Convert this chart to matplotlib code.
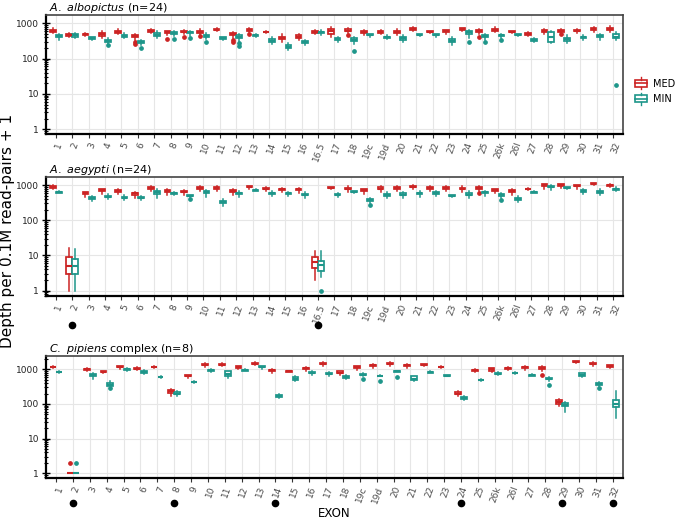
import numpy as np
import matplotlib
matplotlib.use("Agg")
import matplotlib.pyplot as plt
from matplotlib.legend_handler import HandlerBase
from matplotlib.patches import Rectangle, Patch
from matplotlib.lines import Line2D
from matplotlib.ticker import LogLocator, NullFormatter, FixedLocator

# exon categories on the x axis (C. pipiens has no 16.5)
exons = ['1', '2', '3', '4', '5', '6', '7', '8', '9', '10', '11', '12', '13', '14',
         '15', '16', '16.5', '17', '18', '19c', '19d', '20', '21', '22', '23', '24',
         '25', '26k', '26l', '27', '28', '29', '30', '31', '32']
exons_pip = ['1', '2', '3', '4', '5', '6', '7', '8', '9', '10', '11', '12', '13', '14',
             '15', '16', '17', '18', '19c', '19d', '20', '21', '22', '23', '24',
             '25', '26k', '26l', '27', '28', '29', '30', '31', '32']

# box stats per exon: (whisker low, q1, median, q3, whisker high)
albo_med = [(520, 580, 620, 660, 720), (400, 440, 470, 500, 540), (440, 470, 490, 510, 530),
            (380, 440, 500, 540, 620), (500, 540, 560, 590, 680), (340, 400, 430, 460, 480),
            (520, 570, 600, 640, 700), (460, 520, 560, 600, 620), (480, 550, 580, 610, 650),
            (460, 540, 580, 620, 680), (600, 640, 660, 690, 730), (380, 460, 500, 530, 560),
            (560, 620, 650, 680, 720), (520, 550, 560, 580, 600), (300, 350, 380, 410, 480),
            (340, 390, 420, 460, 500), (480, 530, 560, 590, 640), (420, 500, 600, 700, 760),
            (520, 590, 620, 680, 720), (460, 540, 560, 600, 660), (480, 540, 560, 600, 640),
            (450, 540, 580, 620, 700), (600, 650, 690, 720, 800), (540, 570, 580, 600, 620),
            (500, 570, 600, 630, 660), (600, 650, 690, 720, 740), (500, 580, 620, 660, 700),
            (560, 620, 660, 690, 780), (540, 570, 580, 600, 620), (440, 470, 500, 540, 560),
            (480, 560, 600, 650, 700), (520, 580, 620, 660, 700), (520, 590, 620, 660, 700),
            (560, 640, 690, 720, 800), (580, 650, 690, 730, 820)]
albo_min = [(340, 400, 430, 460, 500), (380, 420, 450, 480, 520), (340, 360, 380, 400, 420),
            (260, 290, 310, 340, 380), (380, 420, 430, 450, 520), (240, 270, 290, 310, 340),
            (380, 440, 470, 520, 600), (440, 500, 530, 560, 600), (440, 520, 550, 580, 620),
            (360, 410, 430, 460, 520), (340, 360, 380, 400, 420), (300, 380, 420, 450, 480),
            (420, 440, 450, 460, 480), (260, 300, 320, 360, 400), (170, 195, 210, 240, 270),
            (240, 270, 290, 310, 340), (460, 520, 550, 570, 650), (300, 340, 360, 380, 420),
            (260, 310, 330, 370, 420), (420, 450, 470, 490, 510), (350, 380, 400, 420, 450),
            (290, 340, 380, 420, 450), (430, 460, 470, 480, 500), (400, 450, 470, 490, 510),
            (240, 290, 320, 360, 400), (380, 500, 550, 600, 660), (340, 400, 430, 460, 500),
            (390, 430, 450, 470, 500), (430, 460, 470, 480, 500), (290, 310, 330, 360, 380),
            (280, 300, 400, 550, 620), (280, 320, 350, 390, 450), (340, 380, 400, 420, 450),
            (330, 400, 430, 460, 480), (340, 380, 420, 480, 560)]
albo_med_out = {'6': [250, 300], '8': [350], '9': [400], '10': [430], '12': [330, 290],
                '13': [480], '18': [450], '25': [420], '29': [480]}
albo_min_out = {'4': [240], '6': [200], '8': [350], '9': [380], '10': [300], '12': [270, 220],
                '18': [160], '24': [300], '25': [300], '26k': [340], '32': [18]}

aeg_med = [(800, 850, 900, 960, 1000), (1, 3, 5, 9, 16), (460, 560, 580, 620, 650),
           (560, 680, 720, 760, 800), (560, 650, 680, 730, 780), (440, 530, 580, 610, 640),
           (700, 800, 840, 880, 940), (520, 620, 680, 720, 760), (520, 620, 650, 690, 720),
           (700, 800, 840, 880, 920), (680, 800, 840, 880, 960), (520, 640, 680, 720, 760),
           (780, 860, 900, 940, 960), (660, 760, 800, 840, 880), (640, 740, 770, 800, 830),
           (600, 730, 770, 800, 830), (2, 4.5, 6.5, 9, 13), (760, 810, 840, 880, 900),
           (640, 760, 800, 850, 960), (560, 680, 720, 760, 800), (620, 760, 800, 860, 960),
           (660, 800, 840, 880, 920), (760, 860, 900, 940, 980), (700, 800, 840, 880, 920),
           (700, 800, 840, 880, 920), (640, 760, 800, 850, 960), (680, 800, 840, 880, 920),
           (600, 680, 720, 760, 800), (520, 640, 680, 720, 760), (720, 750, 770, 790, 810),
           (800, 950, 1000, 1050, 1100), (840, 950, 1000, 1050, 1080), (760, 920, 960, 1000, 1040),
           (1000, 1060, 1100, 1140, 1180), (860, 960, 1000, 1040, 1080)]
aeg_min = [(580, 600, 620, 640, 660), (1, 3, 5, 8, 15), (360, 400, 420, 450, 480),
           (400, 450, 470, 500, 560), (380, 420, 440, 470, 540), (380, 420, 440, 460, 500),
           (440, 560, 620, 660, 760), (520, 560, 580, 600, 640), (460, 490, 500, 520, 540),
           (460, 580, 620, 660, 720), (260, 310, 330, 350, 400), (460, 550, 580, 610, 660),
           (680, 700, 720, 740, 760), (500, 560, 580, 610, 680), (480, 560, 580, 600, 620),
           (440, 520, 540, 570, 640), (2.5, 3.5, 5.5, 7, 13), (460, 520, 540, 560, 600),
           (580, 630, 650, 670, 700), (300, 350, 370, 400, 440), (420, 500, 520, 550, 640),
           (440, 520, 540, 580, 640), (460, 550, 580, 610, 680), (480, 550, 580, 620, 660),
           (470, 490, 500, 510, 530), (440, 520, 540, 580, 660), (480, 590, 620, 650, 700),
           (440, 490, 520, 560, 600), (320, 380, 400, 430, 480), (580, 600, 620, 640, 660),
           (740, 870, 900, 930, 980), (800, 820, 840, 860, 880), (560, 650, 680, 720, 780),
           (540, 600, 650, 700, 760), (680, 740, 770, 800, 880)]
aeg_med_out = {'25': [600]}
aeg_min_out = {'9': [400], '16.5': [1], '19c': [270], '26k': [380]}

pip_med = [(1100, 1140, 1170, 1200, 1240), (1, 1, 1, 1, 1), (880, 960, 1000, 1050, 1100),
           (760, 820, 840, 880, 920), (1000, 1130, 1170, 1220, 1260), (950, 1000, 1050, 1100, 1150),
           (1080, 1130, 1170, 1200, 1240), (170, 210, 230, 250, 270), (560, 620, 640, 680, 700),
           (1200, 1320, 1360, 1420, 1480), (1260, 1320, 1360, 1420, 1480), (1040, 1120, 1170, 1220, 1260),
           (1300, 1400, 1460, 1520, 1580), (800, 900, 940, 980, 1020), (840, 860, 880, 900, 920),
           (900, 1040, 1090, 1120, 1150), (1250, 1400, 1460, 1520, 1580), (680, 760, 800, 880, 920),
           (980, 1120, 1170, 1220, 1260), (1100, 1260, 1300, 1360, 1400), (1250, 1400, 1460, 1520, 1600),
           (1100, 1260, 1300, 1360, 1400), (1280, 1330, 1360, 1400, 1440), (1100, 1140, 1170, 1200, 1240),
           (170, 190, 200, 215, 230), (820, 900, 940, 980, 1020), (820, 920, 1000, 1060, 1100),
           (960, 1050, 1090, 1120, 1160), (980, 1120, 1170, 1200, 1260), (900, 1040, 1090, 1130, 1250),
           (85, 100, 115, 130, 135), (1500, 1580, 1630, 1680, 1720), (1260, 1400, 1460, 1520, 1580),
           (1100, 1200, 1250, 1300, 1340)]
pip_min = [(800, 820, 840, 860, 880), (1, 1, 1, 1, 1), (540, 620, 670, 740, 780),
           (320, 340, 360, 390, 460), (900, 960, 1000, 1040, 1080), (720, 800, 840, 900, 960),
           (570, 590, 600, 610, 620), (170, 190, 200, 220, 240), (410, 420, 430, 440, 450),
           (840, 900, 940, 980, 1040), (560, 650, 750, 880, 920), (880, 920, 940, 960, 1000),
           (1050, 1130, 1170, 1210, 1240), (150, 160, 170, 180, 190), (460, 500, 540, 580, 620),
           (680, 760, 800, 840, 880), (640, 720, 750, 780, 820), (520, 560, 600, 660, 700),
           (640, 680, 700, 720, 760), (620, 640, 650, 660, 680), (840, 860, 880, 900, 920),
           (460, 500, 540, 620, 660), (780, 800, 820, 840, 900), (620, 640, 650, 680, 700),
           (130, 140, 150, 160, 170), (470, 480, 490, 500, 510), (680, 720, 740, 800, 860),
           (720, 760, 780, 800, 820), (620, 660, 680, 700, 720), (460, 520, 540, 560, 600),
           (60, 85, 95, 105, 115), (580, 650, 700, 760, 800), (330, 350, 370, 390, 420),
           (40, 80, 100, 130, 230)]
pip_med_out = {'2': [2], '28': [700]}
pip_min_out = {'2': [2], '4': [280], '19c': [540], '19d': [450], '20': [600], '28': [350], '31': [280]}

# exons marked with a black dot under the axis
aeg_dots = ['2', '16.5']
pip_dots = ['2', '8', '14', '24', '29', '32']

MED_COL = '#CC2424'
MIN_COL = '#1E968A'

plt.rcParams['font.family'] = 'DejaVu Sans'
fig = plt.figure(figsize=(6.8, 5.2), dpi=100)


def make_stats(cats, rows, outs):
    stats = []
    for ex, (lo, q1, med, q3, hi) in zip(cats, rows):
        stats.append(dict(whislo=lo, q1=q1, med=med, q3=q3, whishi=hi,
                          fliers=outs.get(ex, [])))
    return stats


def draw_panel(ax, cats, med_rows, min_rows, med_out, min_out, ylim, title,
               dots=None, dot_y=-0.22):
    x = np.arange(len(cats))
    for rows, outs, col, shift in [(med_rows, med_out, MED_COL, -0.19),
                                   (min_rows, min_out, MIN_COL, 0.19)]:
        ax.bxp(make_stats(cats, rows, outs), positions=x + shift, widths=0.35,
               patch_artist=True, showcaps=False, manage_ticks=False,
               boxprops=dict(facecolor='white', edgecolor=col, linewidth=1.25),
               medianprops=dict(color=col, linewidth=1.5),
               whiskerprops=dict(color=col, linewidth=1.1),
               flierprops=dict(marker='o', markerfacecolor=col, markeredgecolor=col,
                               markersize=2.4, linestyle='none'))
    ax.set_yscale('log')
    ax.set_ylim(*ylim)
    ax.set_xlim(-0.6, len(cats) - 0.4)
    ax.yaxis.set_major_locator(FixedLocator([1, 10, 100, 1000]))
    ax.set_yticklabels(['1', '10', '100', '1000'])
    ax.yaxis.set_minor_locator(LogLocator(base=10, subs=np.arange(2, 10)))
    ax.yaxis.set_minor_formatter(NullFormatter())
    ax.set_xticks(x)
    ax.set_xticklabels(cats, rotation=70, ha='right', rotation_mode='anchor',
                       fontsize=6.5, color='#4D4D4D')
    ax.tick_params(axis='y', which='major', direction='inout', length=6, width=1.0,
                   labelsize=6.5, labelcolor='#222222', pad=2)
    ax.tick_params(axis='y', which='minor', direction='inout', length=3, width=0.8)
    ax.tick_params(axis='x', which='major', length=3, width=0.8, color='#333333', pad=2)
    ax.grid(True, which='major', color='#E6E6E6', linewidth=0.8)
    ax.set_axisbelow(True)
    for s in ['top', 'right']:
        ax.spines[s].set_color('#444444')
        ax.spines[s].set_linewidth(1.2)
    for s in ['left', 'bottom']:
        ax.spines[s].set_color('black')
        ax.spines[s].set_linewidth(1.6)
    ax.set_title(title, loc='left', fontsize=8, pad=2, x=0.006)
    if dots:
        pos = [cats.index(d) for d in dots]
        ax.plot(pos, [dot_y] * len(pos), 'o', color='black', markersize=4.5,
                transform=ax.get_xaxis_transform(), clip_on=False)


ax1 = fig.add_axes([0.0676, 0.7423, 0.8485, 0.2288])
ax2 = fig.add_axes([0.0676, 0.4308, 0.8485, 0.2288])
ax3 = fig.add_axes([0.0676, 0.0808, 0.8485, 0.2346])

draw_panel(ax1, exons, albo_med, albo_min, albo_med_out, albo_min_out, (0.74, 1700),
           r'$\it{A.\ albopictus}$ (n=24)')
draw_panel(ax2, exons, aeg_med, aeg_min, aeg_med_out, aeg_min_out, (0.7, 1700),
           r'$\it{A.\ aegypti}$ (n=24)', aeg_dots, -0.245)
draw_panel(ax3, exons_pip, pip_med, pip_min, pip_med_out, pip_min_out, (0.73, 2420),
           r'$\it{C.\ pipiens}$ complex (n=8)', pip_dots, -0.205)

fig.text(0.0105, 0.555, 'Depth per 0.1M read-pairs + 1', rotation=90,
         ha='center', va='center', fontsize=11)
fig.text(0.492, 0.013, 'EXON', ha='center', va='center', fontsize=8.5)


class BoxKey(HandlerBase):
    def create_artists(self, legend, orig_handle, xdescent, ydescent, width, height,
                       fontsize, trans):
        col = orig_handle.get_edgecolor()
        x0, y0 = -xdescent, -ydescent
        cx = x0 + width / 2
        rect = Rectangle((x0 + width * 0.08, y0 + height * 0.18), width * 0.84, height * 0.64,
                         facecolor='white', edgecolor=col, linewidth=1.2, transform=trans)
        med = Line2D([x0 + width * 0.08, x0 + width * 0.92], [y0 + height / 2] * 2,
                     color=col, linewidth=1.2, transform=trans)
        w1 = Line2D([cx, cx], [y0 - height * 0.05, y0 + height * 0.18], color=col,
                    linewidth=1.0, transform=trans)
        w2 = Line2D([cx, cx], [y0 + height * 0.82, y0 + height * 1.05], color=col,
                    linewidth=1.0, transform=trans)
        return [rect, med, w1, w2]


handles = [Patch(edgecolor=MED_COL, facecolor='white'), Patch(edgecolor=MIN_COL, facecolor='white')]
fig.legend(handles, ['MED', 'MIN'], handler_map={Patch: BoxKey()},
           loc='center left', bbox_to_anchor=(0.932, 0.825), frameon=False,
           handlelength=1.5, handleheight=1.3, fontsize=7, labelspacing=0.5,
           handletextpad=0.5, borderpad=0, borderaxespad=0)

fig.savefig('out.png', dpi=100)
